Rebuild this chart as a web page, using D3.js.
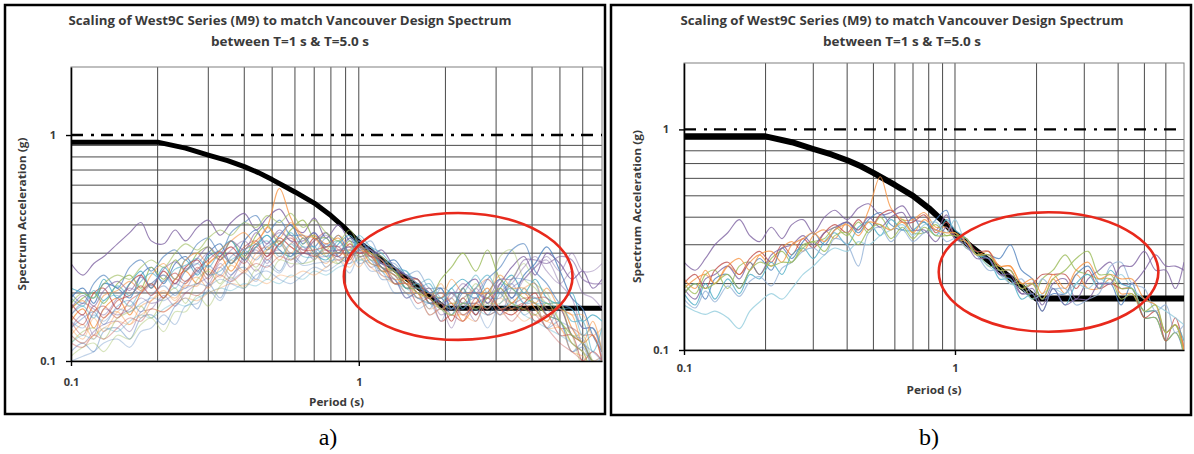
<!DOCTYPE html>
<html>
<head>
<meta charset="utf-8">
<script src="https://cdn.jsdelivr.net/npm/d3@7"></script>
<style>
  body { margin: 0; background: #fff; }
  text { font-family: "Open Sans", "Liberation Sans", sans-serif; }
</style>
</head>
<body>
<div id="chart"></div>
<script>
// periods (s) shared by every record
var periods = [0.10,0.11,0.12,0.13,0.145,0.16,0.175,0.19,0.21,0.23,
               0.25,0.275,0.3,0.33,0.36,0.4,0.44,0.48,0.53,0.58,
               0.64,0.7,0.77,0.85,0.93,1.0,1.1,1.2,1.33,1.46,
               1.6,1.76,1.93,2.1,2.3,2.55,2.8,3.1,3.4,3.75,
               4.1,4.5,5.0,5.5,6.0,6.5,7.0];

// Vancouver design spectrum (g)
var targetT  = [0.1,0.2,0.25,0.3,0.35,0.4,0.45,0.5,0.6,0.7,0.8,0.9,1.0,2.0,7.0];
var targetSa = [0.93,0.93,0.875,0.815,0.77,0.725,0.68,0.635,0.56,0.5,0.44,0.385,0.336,0.171,0.171];

// reference level drawn dash-dot
var refLevel = 1.0;

// scaled records, panel a (g)
var recordsA = [
  [.27,.24,.27,.29,.33,.37,.41,.34,.33,.38, .34,.39,.42,.36,.41,.45,.38,.43,.47,.40, .37,.43,.35,.40,.34,.33,.29,.31,.26,.24, .22,.20,.18,.17,.21,.23,.18,.22,.26,.29, .24,.30,.27,.23,.25,.21,.23],
  [.19,.21,.18,.22,.21,.19,.24,.26,.22,.27, .29,.25,.30,.33,.27,.34,.38,.31,.36,.40, .33,.37,.32,.36,.30,.34,.30,.27,.28,.24, .23,.20,.21,.17,.21,.16,.20,.23,.19,.24, .27,.32,.25,.19,.17,.13,.11],
  [.15,.17,.14,.17,.19,.16,.20,.22,.19,.23, .25,.22,.27,.29,.25,.31,.34,.39,.58,.43, .35,.36,.33,.35,.29,.32,.27,.26,.22,.23, .20,.19,.17,.18,.15,.18,.21,.17,.18,.20, .17,.15,.18,.14,.12,.13,.10],
  [.17,.19,.20,.18,.22,.24,.21,.26,.23,.28, .25,.30,.32,.28,.34,.29,.36,.40,.33,.38, .42,.35,.35,.30,.34,.29,.30,.26,.25,.21, .22,.19,.23,.26,.30,.25,.31,.23,.21,.19, .18,.16,.15,.12,.11,.09,.10],
  [.18,.16,.20,.21,.17,.22,.24,.21,.25,.22, .26,.28,.24,.29,.32,.28,.33,.29,.35,.32, .30,.35,.31,.29,.33,.30,.31,.27,.26,.23, .23,.18,.18,.15,.19,.16,.20,.17,.16,.18, .20,.16,.17,.13,.12,.10,.10],
  [.21,.20,.19,.23,.19,.22,.25,.21,.26,.23, .28,.24,.29,.31,.34,.28,.32,.36,.31,.29, .35,.30,.28,.33,.36,.32,.31,.26,.24,.21, .21,.20,.19,.21,.23,.20,.17,.21,.24,.20, .23,.19,.18,.20,.15,.16,.15],
  [.14,.16,.13,.17,.16,.17,.19,.18,.19,.22, .21,.25,.22,.27,.24,.29,.31,.27,.33,.29, .32,.28,.33,.29,.27,.31,.26,.27,.22,.22, .19,.19,.16,.17,.17,.21,.18,.22,.19,.23, .26,.29,.25,.30,.25,.25,.27],
  [.11,.12,.11,.135,.14,.125,.155,.16,.145,.175, .19,.17,.22,.19,.24,.26,.23,.28,.25,.30, .27,.31,.26,.30,.32,.27,.28,.23,.23,.19, .20,.17,.21,.20,.18,.19,.16,.20,.22,.18, .18,.14,.15,.11,.12,.095,.09],
  [.13,.145,.125,.155,.165,.145,.175,.185,.20,.19, .22,.235,.21,.26,.28,.25,.30,.32,.28,.33, .36,.30,.27,.31,.28,.32,.30,.25,.26,.22, .23,.19,.22,.18,.19,.21,.23,.20,.18,.21, .22,.17,.17,.16,.16,.13,.14],
  [.12,.135,.14,.125,.155,.165,.175,.155,.19,.21, .18,.23,.25,.22,.27,.29,.26,.31,.34,.28, .33,.36,.29,.27,.31,.33,.28,.28,.24,.24, .20,.21,.17,.18,.18,.22,.19,.29,.31,.23, .21,.18,.18,.13,.13,.10,.09],
  [.15,.13,.165,.175,.155,.185,.20,.22,.19,.23, .22,.26,.23,.28,.30,.27,.32,.28,.33,.36, .30,.34,.37,.31,.31,.30,.30,.25,.25,.22, .22,.18,.19,.20,.18,.18,.17,.21,.18,.19, .19,.19,.14,.14,.13,.13,.10],
  [.20,.18,.22,.24,.21,.26,.28,.25,.29,.31, .28,.33,.35,.30,.37,.41,.44,.37,.42,.36, .36,.32,.37,.30,.35,.31,.32,.27,.26,.21, .22,.18,.19,.16,.20,.19,.23,.26,.31,.33, .25,.22,.18,.17,.14,.14,.11],
  [.16,.175,.155,.185,.195,.175,.205,.22,.24,.21, .25,.27,.24,.25,.28,.30,.32,.34,.29,.33, .29,.29,.32,.34,.29,.35,.30,.28,.25,.25, .22,.23,.19,.20,.20,.24,.20,.20,.17,.21, .18,.18,.17,.17,.13,.14,.11],
  [.13,.12,.135,.145,.15,.135,.165,.17,.195,.175, .20,.22,.235,.26,.23,.28,.25,.29,.31,.26, .30,.29,.29,.30,.30,.29,.29,.24,.23,.19, .20,.16,.17,.14,.18,.15,.19,.16,.21,.23, .26,.28,.22,.19,.14,.14,.10],
  [.17,.185,.165,.195,.205,.225,.205,.24,.27,.23, .28,.30,.27,.31,.34,.37,.33,.39,.35,.41, .36,.35,.31,.36,.32,.31,.30,.28,.23,.23, .19,.20,.19,.23,.20,.20,.20,.24,.21,.21, .18,.21,.17,.16,.12,.15,.11],
  [.105,.115,.12,.11,.13,.125,.145,.155,.135,.165, .165,.195,.175,.215,.235,.21,.255,.23,.28,.27, .27,.28,.32,.27,.31,.28,.29,.25,.25,.21, .21,.18,.18,.17,.21,.17,.18,.18,.23,.27, .22,.20,.15,.13,.095,.095,.08],
  [.14,.155,.165,.145,.175,.185,.165,.195,.215,.195, .225,.245,.265,.24,.29,.31,.28,.32,.34,.30, .30,.30,.35,.29,.29,.31,.34,.28,.27,.24, .25,.21,.21,.17,.18,.18,.19,.19,.23,.23, .22,.16,.15,.11,.115,.095,.105],
  [.16,.145,.175,.155,.185,.195,.215,.195,.225,.245, .225,.255,.28,.305,.27,.32,.34,.29,.33,.35, .31,.31,.32,.32,.28,.33,.29,.28,.22,.22, .18,.19,.15,.16,.15,.19,.16,.17,.17,.18, .15,.16,.13,.13,.10,.11,.10],
  [.19,.175,.205,.185,.215,.195,.225,.245,.225,.255, .265,.285,.26,.30,.27,.31,.33,.36,.32,.37, .32,.32,.29,.34,.30,.36,.32,.30,.26,.25, .21,.22,.18,.21,.17,.21,.24,.20,.21,.18, .19,.18,.18,.15,.15,.11,.14],
  [.10,.105,.11,.12,.125,.115,.135,.14,.16,.145, .175,.18,.205,.185,.225,.245,.225,.265,.245,.285, .265,.27,.275,.28,.245,.29,.25,.25,.20,.20, .17,.18,.15,.19,.16,.17,.14,.18,.19,.16, .17,.14,.17,.13,.125,.10,.105],
  [.17,.195,.175,.205,.225,.205,.235,.215,.255,.275, .255,.285,.32,.29,.34,.31,.37,.33,.38,.34, .34,.37,.31,.31,.32,.32,.31,.29,.25,.24, .20,.21,.17,.20,.20,.20,.19,.23,.23,.28, .28,.27,.29,.28,.23,.22,.22],
  [.14,.125,.155,.135,.165,.175,.155,.185,.205,.185, .215,.215,.255,.235,.265,.245,.285,.31,.34,.30, .35,.29,.30,.30,.29,.26,.30,.25,.24,.20, .20,.16,.17,.16,.16,.15,.19,.16,.17,.17, .18,.14,.14,.11,.105,.09,.095],
  [.12,.13,.125,.14,.135,.15,.16,.155,.17,.18, .175,.19,.20,.21,.205,.22,.215,.23,.22,.24, .23,.25,.24,.26,.27,.28,.27,.25,.22,.21, .19,.18,.17,.16,.18,.17,.16,.17,.18,.16, .15,.14,.13,.12,.11,.10,.09],
  [.13,.12,.13,.14,.15,.145,.16,.17,.165,.18, .19,.185,.20,.21,.22,.215,.23,.22,.24,.235, .25,.24,.26,.28,.26,.29,.26,.24,.22,.22, .20,.17,.18,.19,.16,.18,.17,.19,.17,.15, .16,.15,.14,.12,.11,.10,.105],
  [.15,.14,.16,.15,.17,.165,.18,.19,.185,.20, .21,.22,.215,.23,.22,.21,.24,.25,.23,.22, .24,.26,.25,.27,.29,.31,.28,.26,.23,.20, .19,.18,.19,.17,.19,.20,.18,.16,.19,.20, .19,.17,.15,.14,.12,.11,.10],
  [.18,.20,.19,.22,.24,.23,.26,.28,.26,.30, .33,.31,.35,.38,.36,.41,.39,.44,.41,.45, .39,.42,.37,.34,.38,.33,.30,.29,.25,.22, .20,.19,.17,.16,.18,.17,.19,.21,.18,.17, .16,.18,.15,.13,.12,.10,.10],
  [.16,.18,.17,.16,.19,.21,.20,.22,.24,.22, .25,.27,.30,.28,.31,.34,.30,.33,.37,.34, .31,.34,.36,.32,.35,.34,.31,.27,.26,.24, .23,.20,.18,.19,.22,.20,.23,.20,.22,.26, .29,.25,.22,.25,.20,.19,.17],
  [.12,.115,.13,.125,.14,.155,.15,.17,.165,.18, .20,.195,.215,.24,.225,.25,.27,.26,.29,.28, .30,.29,.31,.28,.30,.32,.29,.26,.24,.22, .21,.19,.20,.18,.16,.18,.19,.17,.15,.17, .16,.14,.12,.11,.10,.09,.09]
];

// scaled records, panel b (g)
var recordsB = [
  [.25,.23,.26,.30,.34,.39,.33,.31,.36,.32, .37,.39,.34,.40,.43,.39,.44,.46,.41,.42, .45,.39,.38,.35,.41,.33,.31,.27,.26,.22, .21,.18,.19,.16,.20,.21,.17,.21,.23,.25, .20,.20,.23,.27,.24,.24,.23],
  [.19,.21,.22,.20,.24,.22,.25,.27,.24,.29, .31,.28,.33,.35,.32,.38,.35,.43,.61,.44, .39,.39,.42,.36,.36,.32,.31,.27,.28,.24, .24,.20,.20,.17,.21,.18,.22,.19,.19,.21, .18,.18,.15,.15,.12,.13,.10],
  [.18,.20,.17,.21,.22,.19,.23,.26,.23,.29, .26,.31,.34,.30,.35,.38,.34,.39,.42,.37, .35,.40,.34,.39,.43,.32,.32,.27,.27,.26, .30,.23,.21,.17,.18,.18,.22,.24,.20,.20, .16,.20,.14,.14,.11,.12,.095],
  [.20,.18,.22,.23,.19,.24,.25,.22,.26,.28, .25,.30,.31,.32,.36,.33,.38,.34,.40,.35, .39,.34,.34,.37,.33,.34,.29,.28,.24,.24, .20,.20,.17,.21,.23,.27,.23,.22,.21,.21, .17,.18,.14,.14,.11,.12,.10],
  [.20,.22,.19,.23,.25,.22,.26,.28,.25,.30, .27,.32,.29,.34,.37,.34,.39,.35,.41,.43, .38,.38,.41,.34,.38,.33,.32,.28,.28,.23, .23,.19,.20,.22,.22,.22,.19,.23,.19,.20, .19,.19,.14,.15,.11,.14,.10],
  [.18,.16,.20,.17,.21,.18,.22,.21,.25,.22, .27,.29,.26,.31,.34,.30,.36,.38,.33,.39, .35,.35,.38,.33,.39,.35,.32,.27,.26,.21, .21,.17,.18,.15,.19,.16,.20,.22,.19,.23, .20,.19,.15,.15,.12,.13,.11],
  [.16,.15,.145,.15,.14,.125,.15,.165,.18,.17, .19,.22,.24,.27,.29,.28,.31,.30,.33,.35, .37,.33,.37,.38,.34,.39,.30,.27,.24,.22, .20,.19,.17,.18,.19,.18,.20,.19,.21,.20, .22,.19,.17,.16,.15,.14,.13],
  [.17,.155,.185,.165,.195,.175,.205,.215,.195,.235, .25,.28,.29,.27,.32,.30,.24,.34,.36,.31, .35,.31,.34,.35,.31,.32,.29,.27,.23,.23, .20,.21,.18,.21,.19,.19,.16,.17,.18,.24, .25,.20,.19,.15,.16,.12,.13],
  [.19,.17,.21,.22,.24,.21,.25,.22,.27,.29, .30,.33,.30,.34,.36,.38,.35,.40,.36,.40, .42,.35,.35,.31,.36,.32,.30,.26,.26,.22, .22,.18,.18,.15,.19,.16,.17,.17,.20,.20, .24,.24,.28,.23,.23,.19,.25],
  [.21,.19,.23,.20,.24,.26,.23,.27,.28,.25, .30,.32,.34,.31,.35,.37,.33,.38,.37,.35, .38,.34,.39,.35,.34,.34,.31,.27,.27,.24, .24,.20,.21,.18,.22,.19,.23,.25,.21,.22, .21,.21,.17,.16,.12,.13,.10],
  [.18,.20,.19,.20,.22,.19,.23,.25,.24,.25, .25,.29,.31,.28,.33,.34,.30,.35,.37,.32, .36,.32,.36,.33,.33,.33,.32,.27,.27,.23, .23,.19,.20,.17,.21,.23,.26,.28,.22,.22, .19,.19,.15,.16,.12,.13,.09]
];

// red ellipse drawn round the matching band (period range, Sa range)
var circleA = {t: [0.887, 5.53], sa: [0.452, 0.124]};
var circleB = {t: [0.871, 5.63], sa: [0.421, 0.121]};

var axisTicks = [0.1, 1];
var gridT = [0.2,0.3,0.4,0.5,0.6,0.7,0.8,0.9,1,2,3,4,5,6];
var gridSa = [0.2,0.3,0.4,0.5,0.6,0.7,0.8,0.9];

var titleLine1 = "Scaling of West9C Series (M9) to match Vancouver Design Spectrum";
var titleLine2 = "between T=1 s & T=5.0 s";

// Office palette
var purple = "#8064A2", blue = "#4F81BD", orange = "#F79646",
    green = "#9BBB59", red = "#C0504D", aqua = "#4BACC6";
var colorsA = [purple, blue, orange, green, red, aqua, purple, blue, orange, green, red,
               blue, aqua, purple, orange, green, blue, red, aqua, blue, purple, orange,
               aqua, orange, blue, green, purple, red];
var opacA = [.8,.8,.8,.8,.8,.8,.45,.45,.45,.45,.5,.65,.5,.45,.6,.4,.45,.6,.6,.35,.6,.4,
             .35,.35,.35,.6,.45,.4];
var colorsB = [purple, orange, blue, green, red, aqua, "#93CDDD", "#95B3D7", purple, orange, green];

var panels = [
  {box: [5, 5, 605, 414], left: 71, right: 602, top: 67, bottom: 361,
   records: recordsA, colors: colorsA, opac: opacA, circle: circleA, targetW: 5,
   titleX: 290, ylabX: 22, xlabDy: 25, periodDy: 45, label: "a)", labelX: 328},
  {box: [611, 5, 1191, 415], left: 684, right: 1184, top: 63, bottom: 350,
   records: recordsB, colors: colorsB, opac: null, circle: circleB, targetW: 6,
   titleX: 902, ylabX: 637, xlabDy: 22, periodDy: 44, label: "b)", labelX: 929}
];

var svg = d3.select("#chart")
  .append("svg")
    .attr("width", 1194)
    .attr("height", 454);

panels.forEach(function(p, pi) {
  var x = d3.scaleLog().domain([0.1, 7]).range([p.left, p.right]);
  var y = d3.scaleLog().domain([0.1, 2]).range([p.bottom, p.top]);
  var g = svg.append("g");

  // outer frame of the panel
  g.append("rect")
    .attr("x", p.box[0]).attr("y", p.box[1])
    .attr("width", p.box[2] - p.box[0]).attr("height", p.box[3] - p.box[1])
    .style("fill", "none").style("stroke", "#000").style("stroke-width", 2.5);

  // titles
  g.append("text")
    .attr("x", p.titleX).attr("y", 25)
    .attr("text-anchor", "middle")
    .attr("textLength", 443).attr("lengthAdjust", "spacingAndGlyphs")
    .style("font-size", "13px").style("font-weight", "bold").style("fill", "#3a3a3a")
    .text(titleLine1);
  g.append("text")
    .attr("x", p.titleX).attr("y", 46)
    .attr("text-anchor", "middle")
    .attr("textLength", 158).attr("lengthAdjust", "spacingAndGlyphs")
    .style("font-size", "13px").style("font-weight", "bold").style("fill", "#3a3a3a")
    .text(titleLine2);

  // gridlines
  g.selectAll(".vgrid").data(gridT).enter().append("line")
    .attr("x1", function(d) { return x(d); }).attr("x2", function(d) { return x(d); })
    .attr("y1", p.top).attr("y2", p.bottom)
    .style("stroke", "#4a4a4a").style("stroke-width", 1);
  g.selectAll(".hgrid").data(gridSa).enter().append("line")
    .attr("x1", p.left).attr("x2", p.right)
    .attr("y1", function(d) { return y(d); }).attr("y2", function(d) { return y(d); })
    .style("stroke", "#4a4a4a").style("stroke-width", 1);

  // plot frame
  g.append("rect")
    .attr("x", p.left).attr("y", p.top)
    .attr("width", p.right - p.left).attr("height", p.bottom - p.top)
    .style("fill", "none").style("stroke", "#808080").style("stroke-width", 1);

  // clip
  var clipId = "clip" + pi;
  svg.append("clipPath").attr("id", clipId)
    .append("rect")
      .attr("x", p.left).attr("y", p.top)
      .attr("width", p.right - p.left).attr("height", p.bottom - p.top);
  var inner = g.append("g").attr("clip-path", "url(#" + clipId + ")");

  // design spectrum
  inner.append("path")
    .datum(targetT.map(function(t, i) { return [t, targetSa[i]]; }))
    .attr("d", d3.line()
      .x(function(d) { return x(d[0]); })
      .y(function(d) { return y(d[1]); }))
    .style("fill", "none").style("stroke", "#000")
    .style("stroke-width", p.targetW).style("stroke-linejoin", "round");

  // records
  var recLine = d3.line()
    .x(function(d, i) { return x(periods[i]); })
    .y(function(d) { return y(d); })
    .curve(d3.curveCatmullRom.alpha(0.5));
  inner.selectAll(".rec")
    .data(p.records)
    .enter().append("path")
      .attr("d", recLine)
      .style("fill", "none")
      .style("stroke", function(d, i) { return p.colors[i]; })
      .style("stroke-opacity", function(d, i) { return p.opac ? p.opac[i] : 0.8; })
      .style("stroke-width", 1.15);

  // dash-dot line at 1 g
  g.append("path")
    .datum([[0.1, refLevel], [7, refLevel]])
    .attr("d", d3.line()
      .x(function(d) { return x(d[0]); })
      .y(function(d) { return y(d[1]); }))
    .style("fill", "none").style("stroke", "#000")
    .style("stroke-width", 2.4).style("stroke-dasharray", "12,8,3,7");

  // axes
  var yAxis = g.append("g")
    .attr("transform", "translate(" + p.left + ",0)")
    .call(d3.axisLeft(y).tickValues(axisTicks).tickFormat(d3.format("")).tickSize(5).tickSizeOuter(0).tickPadding(10));
  var xAxis = g.append("g")
    .attr("transform", "translate(0," + p.bottom + ")")
    .call(d3.axisBottom(x).tickValues(axisTicks).tickFormat(d3.format("")).tickSize(5).tickSizeOuter(0).tickPadding(p.xlabDy - 13));
  [yAxis, xAxis].forEach(function(a) {
    a.select(".domain").style("stroke", "#000").style("stroke-width", 1.6);
    a.selectAll(".tick line").style("stroke", "#000").style("stroke-width", 1.4);
    a.selectAll(".tick text")
      .style("font-family", "'Open Sans', sans-serif")
      .style("font-size", "11px").style("font-weight", "bold").style("fill", "#3a3a3a");
  });

  // axis titles
  g.append("text")
    .attr("transform", "translate(" + p.ylabX + "," + ((p.top + p.bottom) / 2) + ") rotate(-90)")
    .attr("dy", "0.35em")
    .attr("text-anchor", "middle")
    .attr("textLength", 153).attr("lengthAdjust", "spacingAndGlyphs")
    .style("font-size", "11px").style("font-weight", "bold").style("fill", "#3a3a3a")
    .text("Spectrum Acceleration (g)");
  g.append("text")
    .attr("x", (p.left + p.right) / 2).attr("y", p.bottom + p.periodDy)
    .attr("text-anchor", "middle")
    .attr("textLength", 55).attr("lengthAdjust", "spacingAndGlyphs")
    .style("font-size", "11px").style("font-weight", "bold").style("fill", "#3a3a3a")
    .text("Period (s)");

  // red ellipse
  var cx0 = x(p.circle.t[0]), cx1 = x(p.circle.t[1]);
  var cy0 = y(p.circle.sa[0]), cy1 = y(p.circle.sa[1]);
  g.append("ellipse")
    .attr("cx", (cx0 + cx1) / 2).attr("cy", (cy0 + cy1) / 2)
    .attr("rx", (cx1 - cx0) / 2).attr("ry", (cy1 - cy0) / 2)
    .style("fill", "none").style("stroke", "#E8291C").style("stroke-width", 2.6);

  // panel label
  g.append("text")
    .attr("x", p.labelX).attr("y", 445)
    .attr("text-anchor", "middle")
    .style("font-family", "'Liberation Serif', 'Times New Roman', serif")
    .style("font-size", "24px")
    .text(p.label);
});
</script>
</body>
</html>
